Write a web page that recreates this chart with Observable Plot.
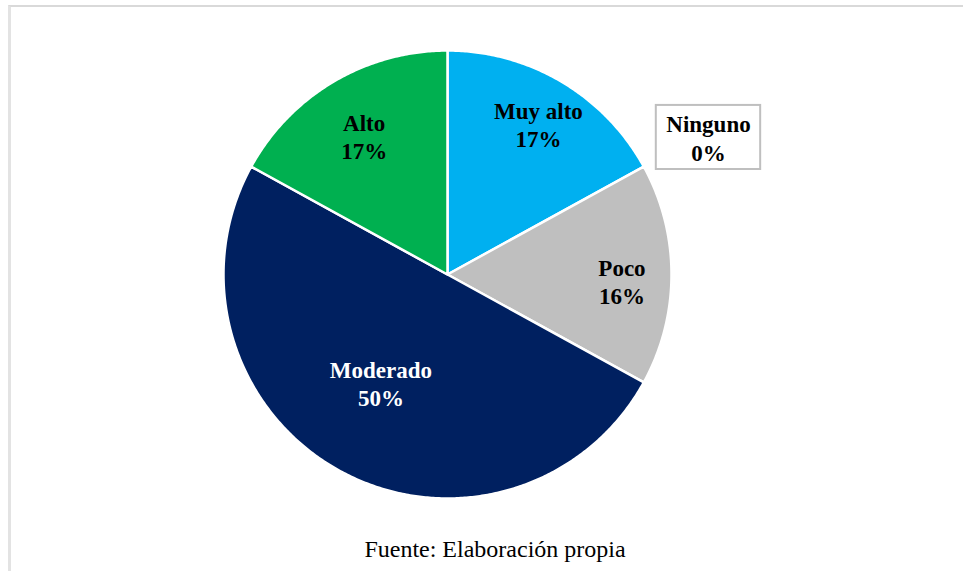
<!DOCTYPE html>
<html><head><meta charset="utf-8">
<script src="https://cdn.jsdelivr.net/npm/d3@7"></script>
<script src="https://cdn.jsdelivr.net/npm/@observablehq/plot@0.6"></script>
<style>
html,body{margin:0;padding:0;background:#fff;width:963px;height:571px;overflow:hidden;}
#frame{position:absolute;left:8px;top:5px;width:1000px;height:600px;border-top:2px solid #d9d9d9;border-left:3px solid #e3e3e3;}
#chart{position:absolute;left:0;top:0;}
#caption{position:absolute;top:537px;left:0;width:990px;text-align:center;font-family:"Liberation Serif",Times,"Times New Roman",serif;font-size:24px;line-height:1;color:#000;}
</style></head><body>
<div id="frame"></div>
<div id="chart"></div>
<div id="caption">Fuente: Elaboración propia</div>
<script>
// data
const categories = ["Ninguno", "Muy alto", "Poco", "Moderado", "Alto"];
const percents = [0, 17, 16, 50, 17];
const percentLabels = ["0%", "17%", "16%", "50%", "17%"];
// styles / layout
const colors = ["#FFFFFF", "#00B0F0", "#BFBFBF", "#002060", "#00B050"];
const labelColors = ["#000000", "#000000", "#000000", "#FFFFFF", "#000000"];
const labelRadius = [1.31, 0.775, 0.78, 0.58, 0.71];
const labelAngleShift = [62.8, 1, 3, 2, -1];

const arcs = d3.pie().sort(null).value(d => d)(percents);
const rows = [];
arcs.forEach((a, i) => {
  if (a.endAngle - a.startAngle <= 0) return;
  const cat = categories[i];
  rows.push({cat, x: 0, y: 0});
  const step = Math.PI / 360;
  const n = Math.ceil((a.endAngle - a.startAngle) / step);
  for (let k = 0; k <= n; k++) {
    const t = a.startAngle + (a.endAngle - a.startAngle) * k / n;
    rows.push({cat, x: Math.sin(t), y: Math.cos(t)});
  }
  rows.push({cat, x: 0, y: 0});
});

const labelRows = arcs.map((a, i) => {
  const mid = (a.startAngle + a.endAngle) / 2 + labelAngleShift[i] * Math.PI / 180;
  return {
    cat: categories[i],
    text: categories[i] + "\n" + percentLabels[i],
    x: labelRadius[i] * Math.sin(mid),
    y: labelRadius[i] * Math.cos(mid),
    color: labelColors[i],
    outside: labelRadius[i] > 1
  };
});

const textOpts = {x: "x", y: "y", text: "text", fontSize: 23, fontWeight: "bold", dy: -3,
  fontFamily: "'Liberation Serif',Times,'Times New Roman',serif", lineHeight: 1.24};

const chart = Plot.plot({
  width: 963,
  height: 520,
  margin: 0,
  x: {domain: [-1, 1], range: [223, 671], axis: null},
  y: {domain: [-1, 1], range: [498, 50], axis: null},
  color: {domain: categories, range: colors},
  marks: [
    Plot.line(rows, {x: "x", y: "y", z: "cat", fill: "cat", stroke: "white", strokeWidth: 2.5, curve: "linear"}),
    Plot.rect(labelRows.filter(d => d.outside), {
      x1: d => d.x - 0.233, x2: d => d.x + 0.233,
      y1: d => d.y - 0.13, y2: d => d.y + 0.156,
      fill: "white", stroke: "#BFBFBF", strokeWidth: 2
    }),
    Plot.text(labelRows.filter(d => d.color === "#000000"), {...textOpts, fill: "#000000"}),
    Plot.text(labelRows.filter(d => d.color === "#FFFFFF"), {...textOpts, fill: "#FFFFFF"})
  ]
});
document.getElementById("chart").appendChild(chart);
</script>
</body></html>
